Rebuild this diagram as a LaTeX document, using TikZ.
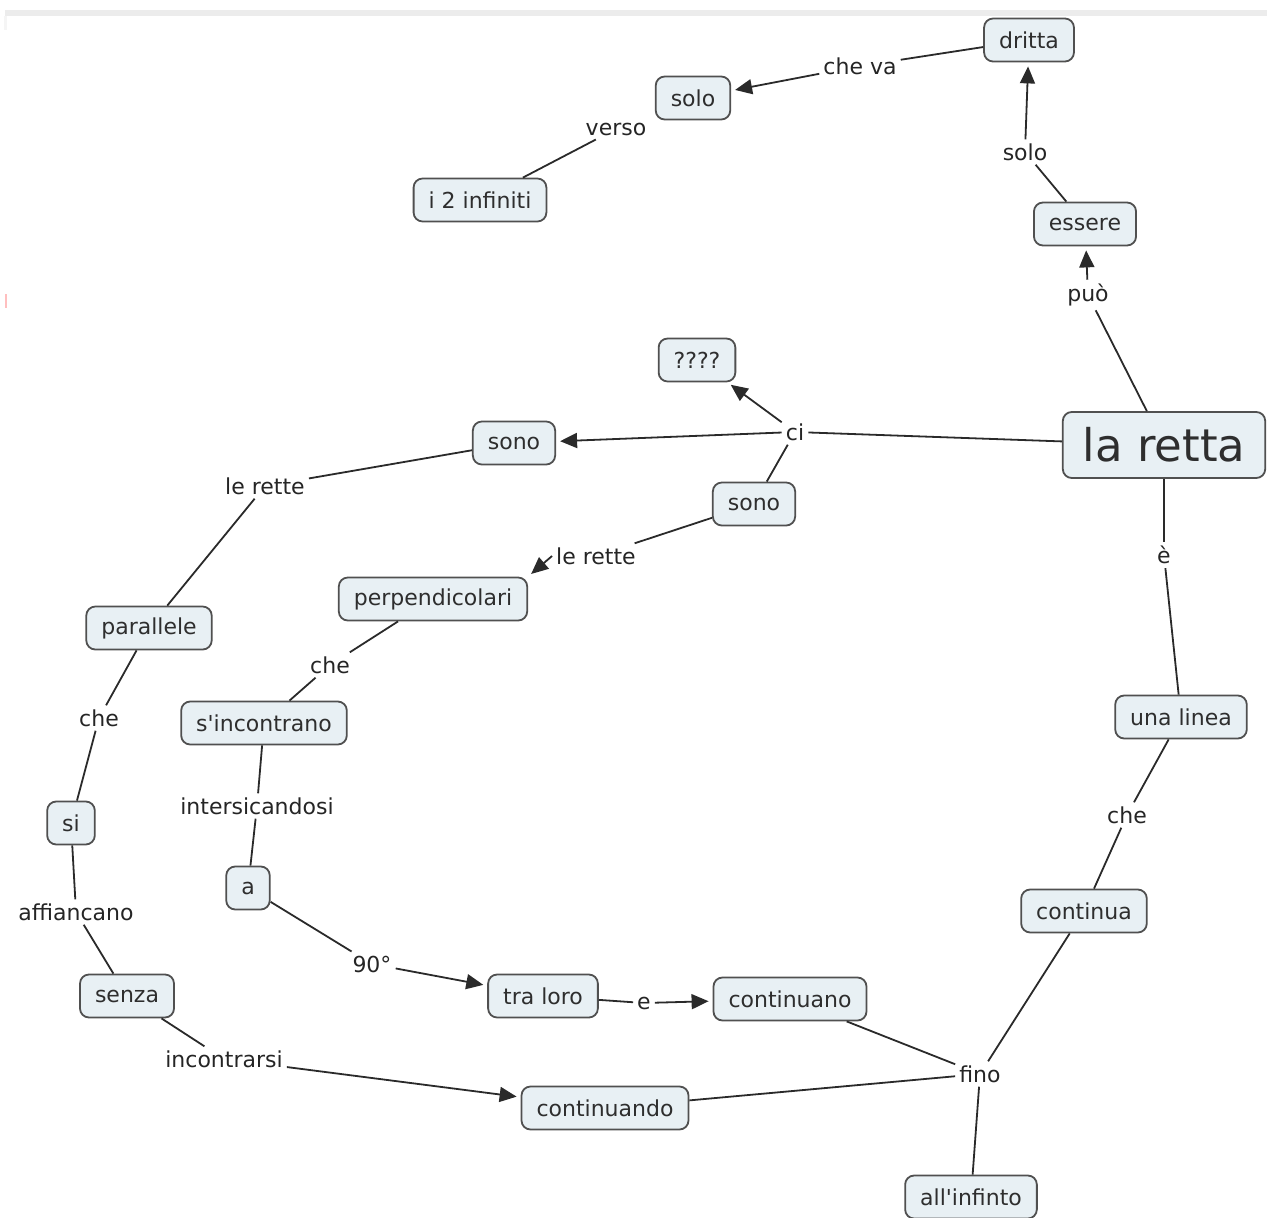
\documentclass[tikz,border=0pt]{standalone}
\usepackage{fontspec}
\setmainfont{DejaVu Sans}[Ligatures=TeXOff]
\usetikzlibrary{arrows.meta}
\definecolor{boxfill}{HTML}{E8F0F4}
\definecolor{boxline}{HTML}{505050}
\definecolor{ink}{HTML}{2E2E2E}
\definecolor{wire}{HTML}{2A2A2A}
\tikzset{
  concept/.style={draw=boxline, line width=1.8pt, fill=boxfill, rounded corners=9pt,
    text=ink, font=\fontsize{22}{26}\selectfont, inner xsep=15pt, inner ysep=0pt,
    minimum height=43pt},
  bigconcept/.style={concept, font=\fontsize{45}{50}\selectfont, inner xsep=20pt,
    minimum height=66pt},
  linklabel/.style={text=ink!80!black, font=\fontsize{22}{26}\selectfont, inner sep=4pt},
  wireline/.style={draw=wire, line width=1.8pt},
  arrowline/.style={wireline, -{Triangle[length=17pt,width=15pt]}, shorten >=4pt}
}
\begin{document}
\begin{tikzpicture}[x=1pt,y=-1pt]
\useasboundingbox (0,0) rectangle (1267,1218);
% scanned page edge
\fill[gray!15] (5,10) rectangle (1267,16);
\fill[gray!8] (4,16) rectangle (7,30);
\fill[red!25] (5,294) rectangle (7,308);

% concepts
\node[concept] (dritta) at (1029,40) {dritta};
\node[concept] (solo) at (693,98) {solo};
\node[concept] (infiniti) at (480,200) {i 2 infiniti};
\node[concept] (essere) at (1085,224) {essere};
\node[concept] (qq) at (697,360) {????};
\node[bigconcept] (retta) at (1164,445) {la retta};
\node[concept] (sonoA) at (514,443) {sono};
\node[concept] (sonoB) at (754,504) {sono};
\node[concept] (perp) at (433,599) {perpendicolari};
\node[concept] (paral) at (149,628) {parallele};
\node[concept] (sinc) at (264,723) {s'incontrano};
\node[concept] (linea) at (1181,717) {una linea};
\node[concept] (si) at (71,823) {si};
\node[concept] (a) at (248,888) {a};
\node[concept] (continua) at (1084,911) {continua};
\node[concept] (senza) at (127,996) {senza};
\node[concept] (traloro) at (543,996) {tra loro};
\node[concept] (continuano) at (790,999) {continuano};
\node[concept] (continuando) at (605,1108) {continuando};
\node[concept] (allinf) at (971,1197) {all'infinto};

% link phrases
\node[linklabel] (cheva) at (860,66) {che va};
\node[linklabel] (verso) at (616,129) {verso};
\node[linklabel] (solol) at (1025,152) {solo};
\node[linklabel] (puo) at (1088,295) {può};
\node[linklabel] (ci) at (795,432) {ci};
\node[linklabel] (retteA) at (265,486) {le rette};
\node[linklabel] (retteB) at (596,556) {le rette};
\node[linklabel] (cheP) at (330,665) {che};
\node[linklabel] (cheQ) at (99,718) {che};
\node[linklabel] (inters) at (257,806) {intersicandosi};
\node[linklabel] (affi) at (76,912) {affiancano};
\node[linklabel] (novanta) at (372,964) {90°};
\node[linklabel] (e) at (644,1003) {e};
\node[linklabel] (incon) at (224,1059) {incontrarsi};
\node[linklabel] (fino) at (980,1074) {fino};
\node[linklabel] (egr) at (1164,555) {è};
\node[linklabel] (cheL) at (1127,815) {che};

% plain connectors
\draw[wireline] (dritta) -- (cheva);
\draw[wireline] (verso) -- (infiniti);
\draw[wireline] (retta) -- (puo);
\draw[wireline] (essere) -- (solol);
\draw[wireline] (retta) -- (ci);
\draw[wireline] (ci) -- (sonoB);
\draw[wireline] (sonoA) -- (retteA);
\draw[wireline] (retteA) -- (paral);
\draw[wireline] (sonoB) -- (retteB);
\draw[wireline] (perp) -- (cheP);
\draw[wireline] (cheP) -- (sinc);
\draw[wireline] (sinc) -- (inters);
\draw[wireline] (inters) -- (a);
\draw[wireline] (a) -- (novanta);
\draw[wireline] (traloro) -- (e);
\draw[wireline] (paral) -- (cheQ);
\draw[wireline] (cheQ) -- (si);
\draw[wireline] (si) -- (affi);
\draw[wireline] (affi) -- (senza);
\draw[wireline] (senza) -- (incon);
\draw[wireline] (retta) -- (egr);
\draw[wireline] (egr) -- (linea);
\draw[wireline] (linea) -- (cheL);
\draw[wireline] (cheL) -- (continua);
\draw[wireline] (continua) -- (fino);
\draw[wireline] (continuano) -- (fino);
\draw[wireline] (fino) -- (continuando);
\draw[wireline] (fino) -- (allinf);

% arrows
\draw[arrowline] (cheva) -- (solo);
\draw[arrowline] (solol) -- (dritta);
\draw[arrowline] (puo) -- (essere);
\draw[arrowline] (ci) -- (qq);
\draw[arrowline] (ci) -- (sonoA);
\draw[arrowline] (retteB.west) -- (perp.north east);
\draw[arrowline] (novanta) -- (traloro);
\draw[arrowline] (e) -- (continuano);
\draw[arrowline] (incon) -- (continuando);
\end{tikzpicture}
\end{document}
